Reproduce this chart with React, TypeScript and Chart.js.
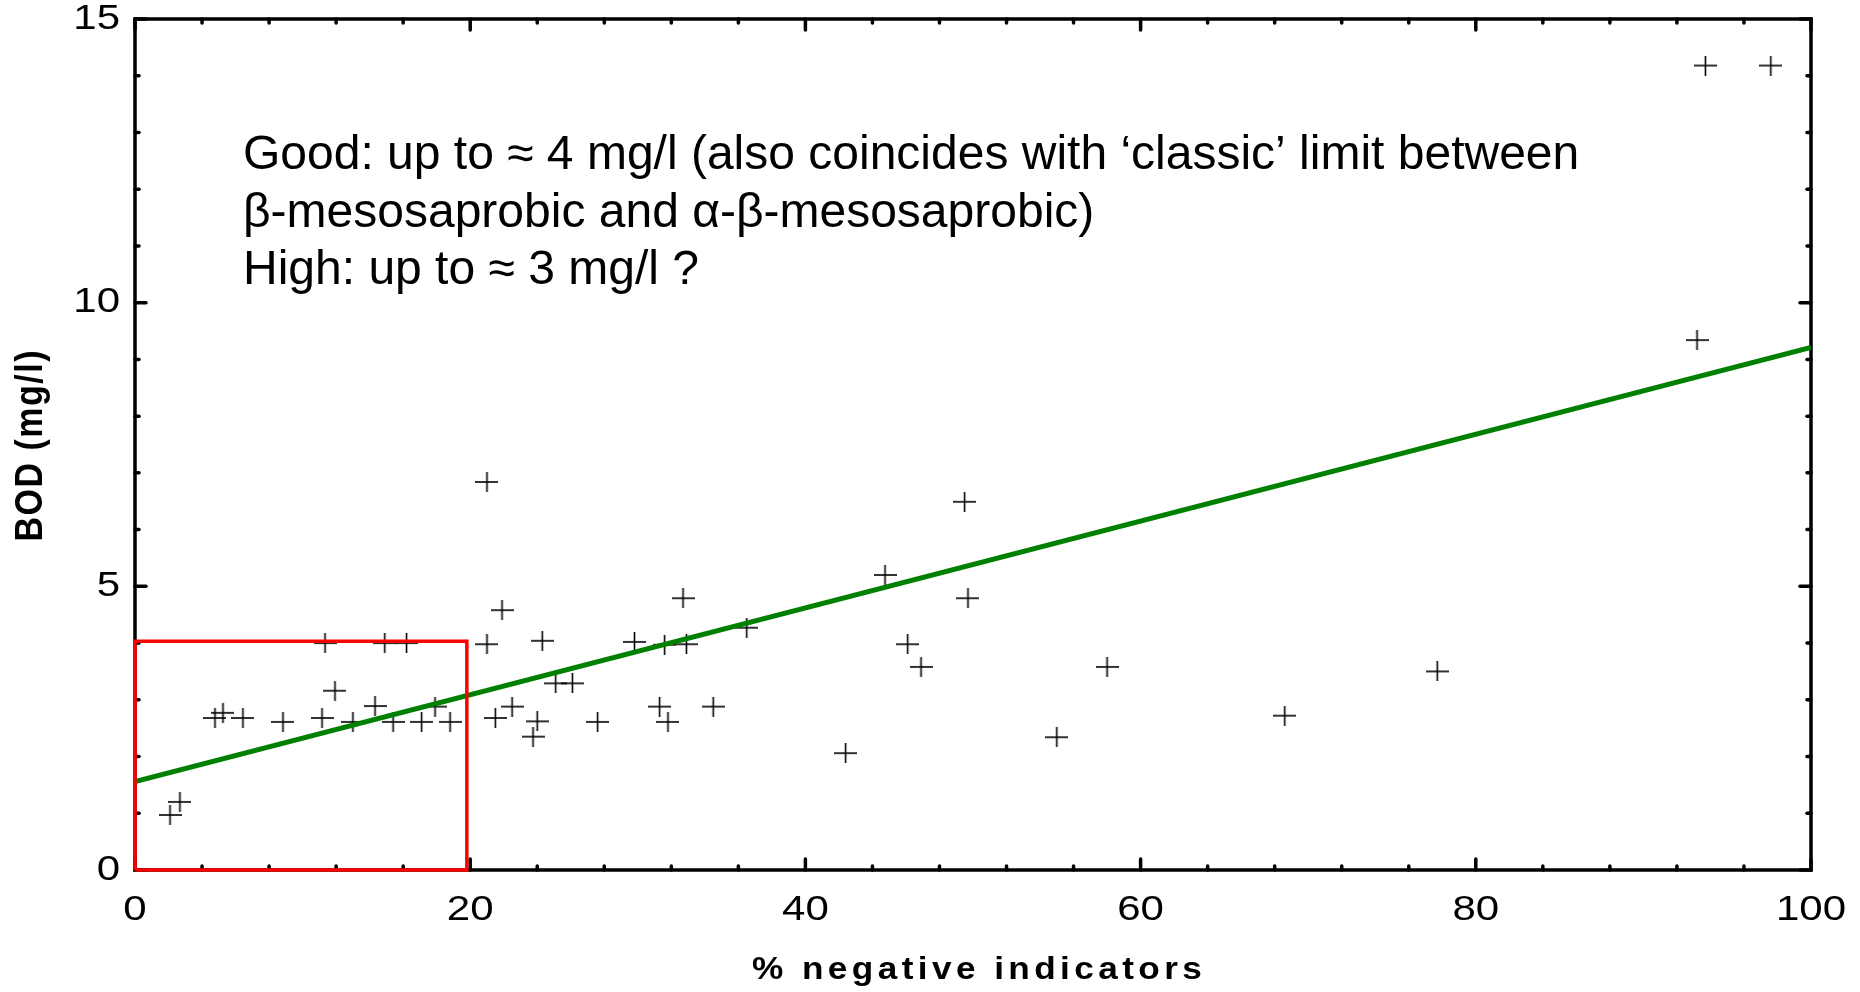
import React, { useEffect, useRef } from 'react';
import { Chart, registerables } from 'chart.js';

Chart.register(...registerables);

// ---------- data ----------
const negIndicators = [
  2.09, 2.68, 4.77, 5.25, 6.44, 8.83, 11.16, 11.34, 11.93, 13.0, 14.32, 14.9, 15.4, 16.2, 17.1, 17.9, 18.8,
  21.0, 21.9, 21.0, 24.3, 22.5, 21.5, 24.0, 23.75, 25.1, 26.1, 27.6, 29.8, 31.3, 31.6, 31.8, 32.7, 32.9,
  34.5, 36.5, 42.4, 44.75, 49.5, 49.7, 46.1, 46.9, 58.0, 55.0, 68.6, 77.7, 93.2, 93.7, 97.6,
];
const bodValues = [
  0.97, 1.2, 2.68, 2.77, 2.68, 2.61, 2.68, 4.0, 3.16, 2.61, 2.89, 4.0, 2.61, 4.0, 2.61, 2.88, 2.61,
  6.84, 4.58, 3.98, 4.04, 2.88, 2.68, 2.62, 2.35, 3.29, 3.29, 2.61, 4.02, 2.88, 3.97, 2.61, 4.79, 3.98,
  2.88, 4.27, 2.06, 5.2, 6.49, 4.79, 3.98, 3.58, 3.58, 2.34, 2.72, 3.5, 9.34, 14.18, 14.18,
];
const fitX = [0, 100];
const fitY = [1.56, 9.21];
const boxX = [0, 19.8];
const boxY = [0, 4.03];

const xTickValues = [0, 20, 40, 60, 80, 100];
const xTickLabels = ['0', '20', '40', '60', '80', '100'];
const yTickValues = [0, 5, 10, 15];
const yTickLabels = ['0', '5', '10', '15'];
const xMinorStep = 4;
const yMinorStep = 1;

const xTitle = '% negative indicators';
const yTitle = 'BOD (mg/l)';
const noteLines = [
  'Good: up to \u2248 4 mg/l (also coincides with \u2018classic\u2019 limit between',
  '\u03b2-mesosaprobic and \u03b1-\u03b2-mesosaprobic)',
  'High: up to \u2248 3 mg/l ?',
];

// ---------- styling ----------
const FONT = '"Liberation Sans", Arial, sans-serif';

function makeCross(): HTMLCanvasElement {
  const c = document.createElement('canvas');
  c.width = 23;
  c.height = 20;
  const g = c.getContext('2d')!;
  g.fillStyle = '#000';
  g.fillRect(0, 9.2, 23, 1.6);
  g.fillRect(10.7, 0, 1.6, 20);
  return c;
}

function drawText(
  ctx: CanvasRenderingContext2D,
  text: string,
  x: number,
  y: number,
  font: string,
  align: CanvasTextAlign,
  stretch: number,
  spacing = 0,
  rotate = false,
) {
  ctx.save();
  ctx.translate(x, y);
  ctx.scale(stretch, 1);
  if (rotate) ctx.rotate(-Math.PI / 2);
  ctx.font = font;
  (ctx as any).letterSpacing = `${spacing}px`;
  ctx.textAlign = align;
  ctx.textBaseline = 'middle';
  ctx.fillStyle = '#000';
  const dx = align === 'center' ? spacing / 2 : align === 'right' ? spacing : 0;
  ctx.fillText(text, dx, 0);
  ctx.restore();
}

const framePlugin = {
  id: 'framePlugin',
  beforeDatasetsDraw(chart: any) {
    const { ctx, chartArea: a, scales } = chart;
    const xs = scales.x;
    const ys = scales.y;
    ctx.save();
    ctx.strokeStyle = '#000';
    ctx.lineWidth = 3.5;
    ctx.strokeRect(a.left, a.top, a.right - a.left, a.bottom - a.top);
    ctx.lineCap = 'round';
    const seg = (x1: number, y1: number, x2: number, y2: number) => {
      ctx.beginPath();
      ctx.moveTo(x1, y1);
      ctx.lineTo(x2, y2);
      ctx.stroke();
    };
    for (let v = xs.min; v <= xs.max + 1e-9; v += xMinorStep) {
      const L = xTickValues.includes(v) ? 11 : 4;
      const px = xs.getPixelForValue(v);
      seg(px, a.bottom, px, a.bottom - L);
      seg(px, a.top, px, a.top + L);
    }
    for (let v = ys.min; v <= ys.max + 1e-9; v += yMinorStep) {
      const L = yTickValues.includes(v) ? 11 : 4;
      const py = ys.getPixelForValue(v);
      seg(a.left, py, a.left + L, py);
      seg(a.right, py, a.right - L, py);
    }
    ctx.restore();
  },
  afterDraw(chart: any) {
    const { ctx, chartArea: a, scales } = chart;
    const xs = scales.x;
    const ys = scales.y;
    const tickFont = `35px ${FONT}`;
    xTickValues.forEach((v, i) => {
      drawText(ctx, xTickLabels[i], xs.getPixelForValue(v), a.bottom + 40, tickFont, 'center', 1.2);
    });
    yTickValues.forEach((v, i) => {
      drawText(ctx, yTickLabels[i], a.left - 15, ys.getPixelForValue(v), tickFont, 'right', 1.2);
    });
    drawText(ctx, xTitle, (a.left + a.right) / 2 + 4, a.bottom + 100, `bold 32px ${FONT}`, 'center', 1.1, 4);
    drawText(ctx, yTitle, 31, 446, `bold 34px ${FONT}`, 'center', 1.15, 1.5, true);

    ctx.save();
    ctx.font = `48px ${FONT}`;
    ctx.fillStyle = '#000';
    ctx.textAlign = 'left';
    ctx.textBaseline = 'alphabetic';
    const baselines = [169, 227, 284];
    noteLines.forEach((t, i) => ctx.fillText(t, 243, baselines[i]));
    ctx.restore();
  },
};

export default function App() {
  const ref = useRef<HTMLCanvasElement | null>(null);

  useEffect(() => {
    document.body.style.margin = '0';
    document.documentElement.style.overflow = 'hidden';
    const canvas = ref.current!;
    const points = negIndicators.map((x, i) => ({ x, y: bodValues[i] }));
    const fit = fitX.map((x, i) => ({ x, y: fitY[i] }));
    const box = [
      { x: boxX[0], y: boxY[0] },
      { x: boxX[0], y: boxY[1] },
      { x: boxX[1], y: boxY[1] },
      { x: boxX[1], y: boxY[0] },
      { x: boxX[0], y: boxY[0] },
    ];
    const chart = new Chart(canvas, {
      type: 'scatter',
      data: {
        datasets: [
          {
            type: 'line',
            label: 'limit box',
            data: box,
            borderColor: '#ff0000',
            borderWidth: 3.5,
            pointRadius: 0,
            fill: false,
            tension: 0,
            clip: false as any,
            order: 0,
          } as any,
          {
            type: 'line',
            label: 'fit',
            data: fit,
            borderColor: '#008000',
            borderWidth: 5,
            pointRadius: 0,
            fill: false,
            tension: 0,
            order: 1,
          } as any,
          {
            type: 'scatter',
            label: 'BOD',
            data: points,
            pointStyle: makeCross(),
            pointRadius: 10,
            order: 2,
          } as any,
        ],
      },
      options: {
        responsive: false,
        animation: false,
        events: [],
        layout: { padding: { left: 135, right: 49, top: 19, bottom: 122 } },
        scales: {
          x: { type: 'linear', min: 0, max: 100, display: false },
          y: { type: 'linear', min: 0, max: 15, display: false },
        },
        plugins: { legend: { display: false }, tooltip: { enabled: false } },
      },
      plugins: [framePlugin],
    });
    return () => chart.destroy();
  }, []);

  return (
    <div style={{ width: 1860, height: 992, background: '#fff' }}>
      <canvas ref={ref} width={1860} height={992} style={{ display: 'block', width: 1860, height: 992 }} />
    </div>
  );
}
